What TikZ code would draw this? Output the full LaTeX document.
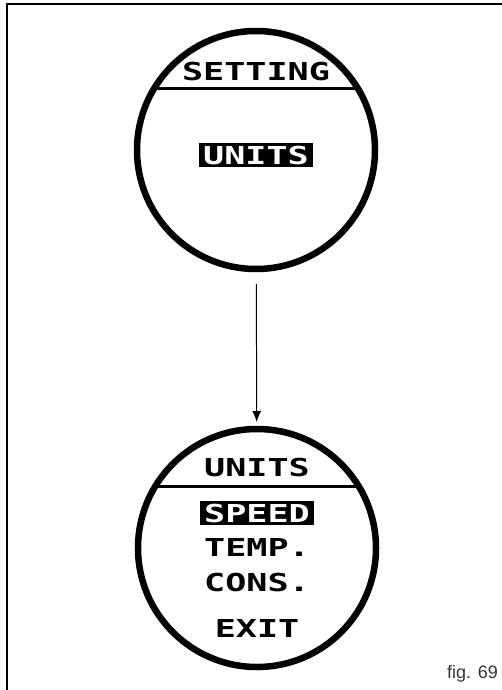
\documentclass[tikz,border=0pt]{standalone}
\usepackage{fontspec}
\setmainfont{Liberation Sans}
\newfontfamily\lcdfont[FakeStretch=1.42]{DejaVu Sans Mono Bold}
\usetikzlibrary{arrows.meta, positioning}

\begin{document}
\begin{tikzpicture}[x=1pt, y=-1pt,
  screen/.style={draw, circle, line width=6.5pt, minimum size=238pt, inner sep=0pt, outer sep=0pt},
  lcd/.style={font=\lcdfont\fontsize{24.7}{26}\selectfont, inner sep=0pt, text height=18pt, text depth=0pt},
  lcdsel/.style={lcd, fill=black, text=white, inner xsep=4pt, inner ysep=3pt}]
        \useasboundingbox (0,0) rectangle (502,690);
        % frame
        \draw[line width=1.3pt] (7,690) -- (7,4) -- (502,4);

        % first screen
        \node[screen] (scrA) at (256,150) {};
        \draw[line width=3pt] (scrA.149) -- (scrA.31);
        \node[lcd] (setTitle) at ([yshift=78pt]scrA.center) {SETTING};
        \node[lcdsel] (setUnits) at ([yshift=-5pt]scrA.center) {UNITS};

        % second screen
        \node[screen] (scrB) at (257,548) {};
        \draw[line width=3pt] (scrB.149) -- (scrB.31);
        \node[lcd] (unitsTitle) at ([yshift=81pt]scrB.center) {UNITS};
        \node[lcdsel] (speed) at ([yshift=35pt]scrB.center) {SPEED};
        \node[lcd] (temp) at ([yshift=1pt]scrB.center) {TEMP.};
        \node[lcd] (cons) at ([yshift=-34pt]scrB.center) {CONS.};
        \node[lcd] (exit) at ([yshift=-80pt]scrB.center) {EXIT};

        \draw[-{Latex[length=11pt, width=9pt]}, line width=1pt, shorten <=15pt, shorten >=7pt] (scrA) -- (scrB);

        \node[anchor=base east, font=\fontsize{18}{20}\selectfont, text=black!80, inner sep=0pt] (figNo) at (498,678) {fig. 69};
    \end{tikzpicture}
\end{document}
